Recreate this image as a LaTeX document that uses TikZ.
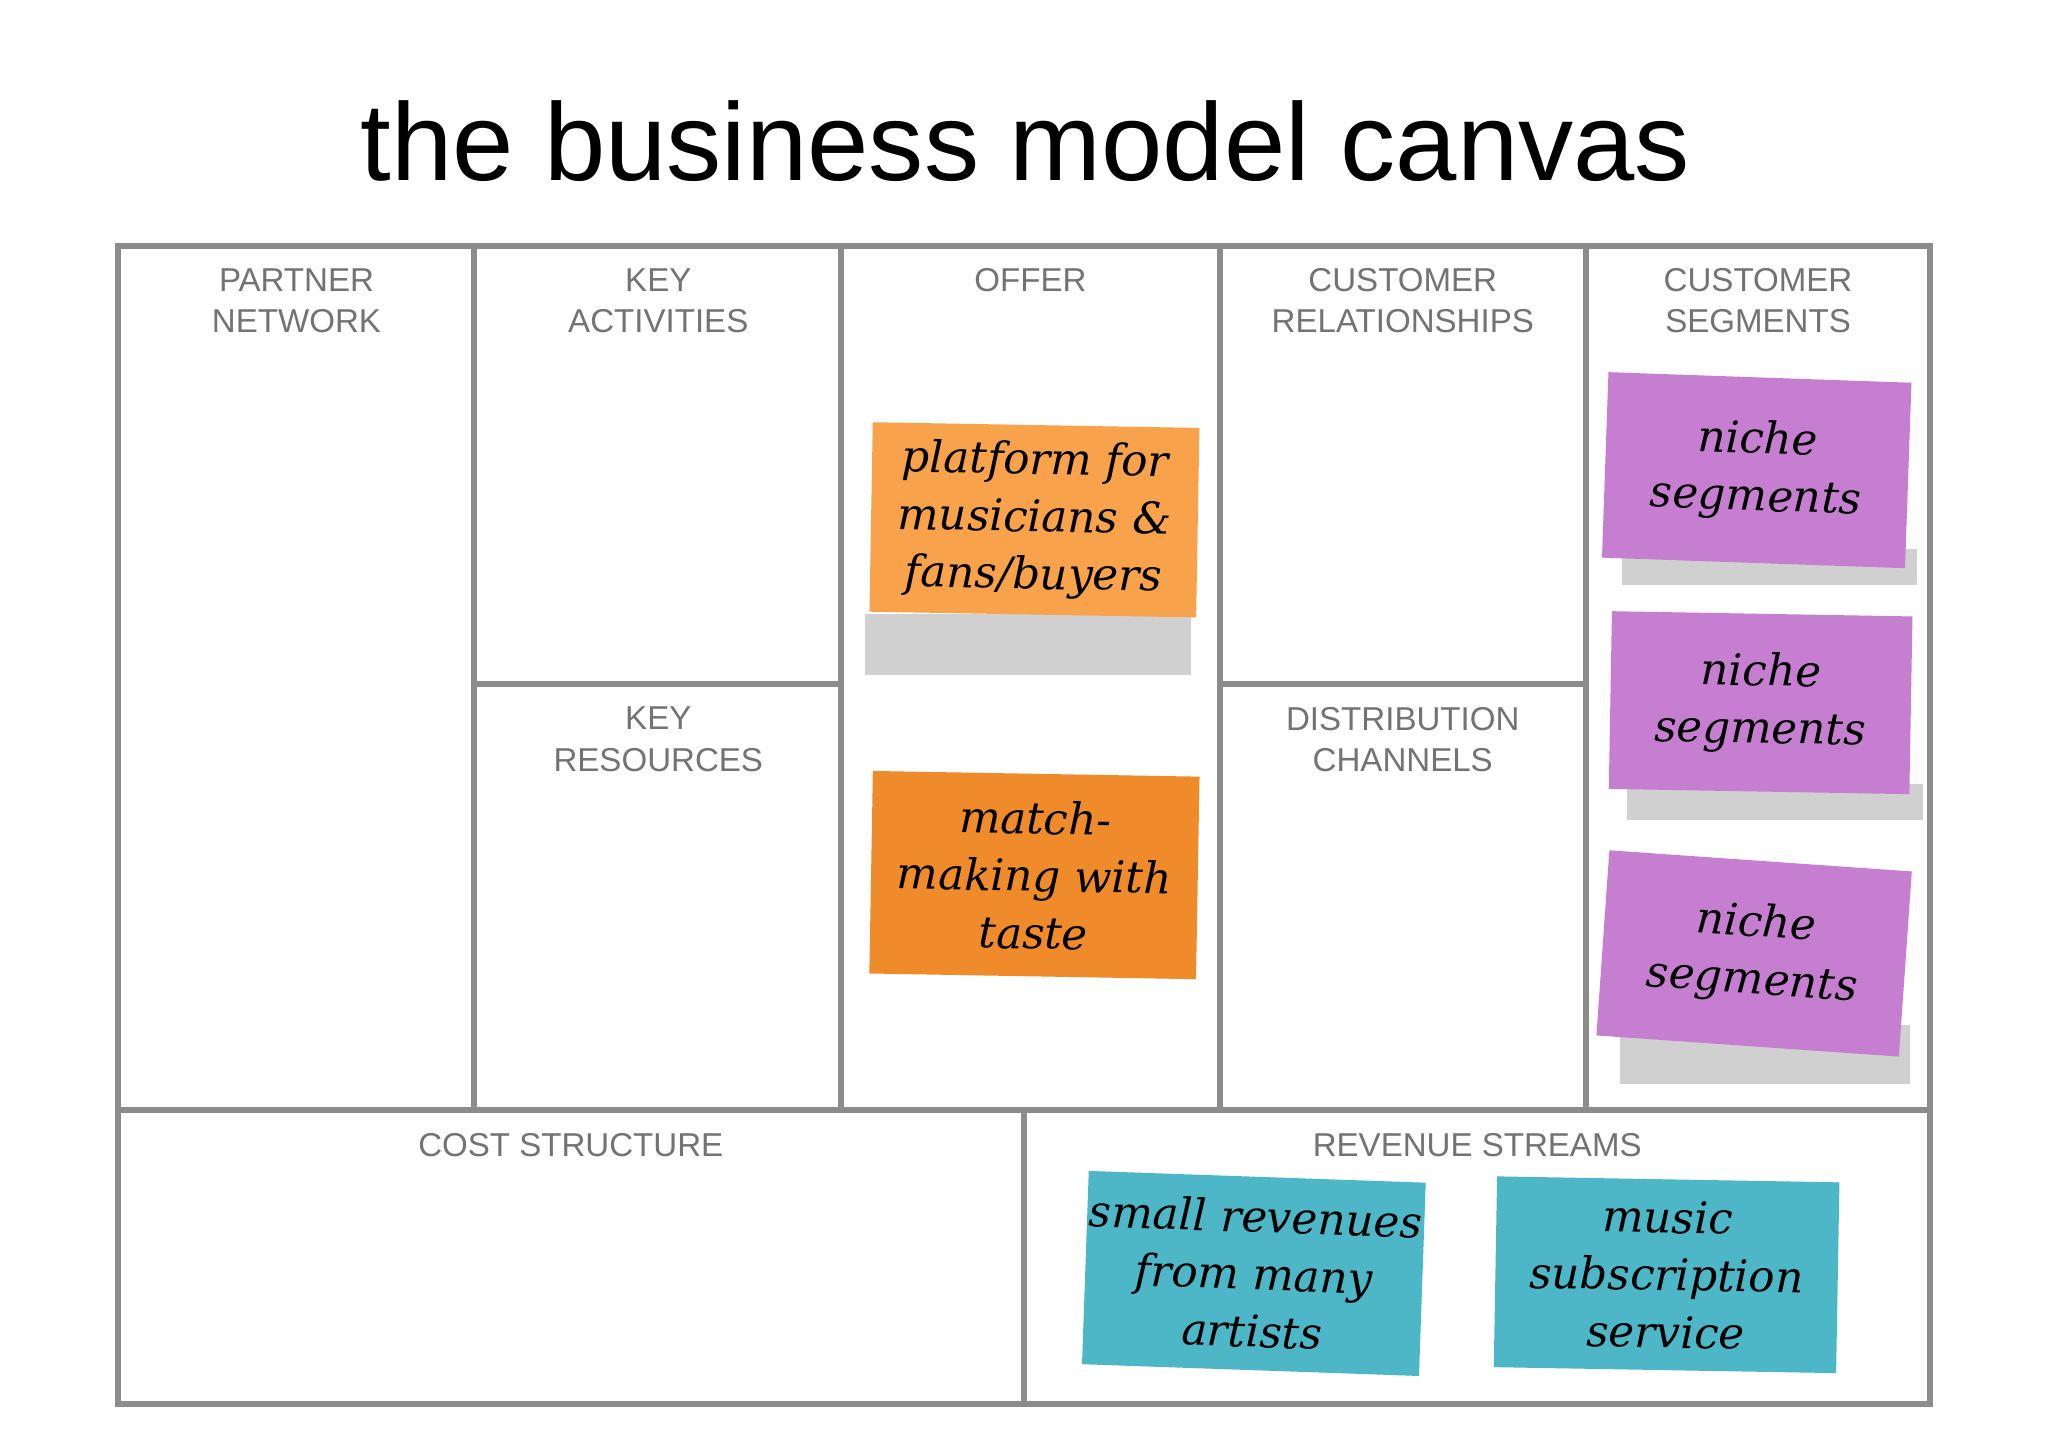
\documentclass[tikz,border=0pt]{standalone}
\usepackage{fontspec}
\setmainfont{Liberation Sans}
\newfontfamily\handfont{DejaVu Serif}
\begin{document}
\begin{tikzpicture}[x=0.01cm,y=-0.01cm,
  grid/.style={draw=black!45,line width=1.3pt},
  lbl/.style={text=black!55,align=center,font=\fontsize{7.2}{9}\selectfont,anchor=north},
  note/.style={minimum width=#1,inner sep=0pt,align=center,font=\handfont\itshape\fontsize{9.5}{12.5}\selectfont},
  shadow/.style={fill=black!30,opacity=0.6}]
\definecolor{orA}{HTML}{F8A24C}
\definecolor{orB}{HTML}{EF8B2A}
\definecolor{pur}{HTML}{C67FD0}
\definecolor{blu}{HTML}{4DB6C7}
\useasboundingbox (0,0) rectangle (1568,1107);
\fill[white] (0,0) rectangle (1568,1107);
\node (title) at (785,108) {\fontsize{24}{28}\selectfont the business model canvas};
% grid
\draw[grid] (90,188) rectangle (1478,1075);
\draw[grid] (90,850) -- (1478,850);
\draw[grid] (363,188) -- (363,850);
\draw[grid] (644,188) -- (644,850);
\draw[grid] (934,188) -- (934,850);
\draw[grid] (1214,188) -- (1214,850);
\draw[grid] (363,524) -- (644,524);
\draw[grid] (934,524) -- (1214,524);
\draw[grid] (784,850) -- (784,1075);
% labels
\node[lbl] (pn) at (227,193) {PARTNER\\NETWORK};
\node[lbl] (ka) at (504,193) {KEY\\ACTIVITIES};
\node[lbl] (of) at (789,193) {OFFER};
\node[lbl] (cr) at (1074,193) {CUSTOMER\\RELATIONSHIPS};
\node[lbl] (cs) at (1346,193) {CUSTOMER\\SEGMENTS};
\node[lbl] (kr) at (504,529) {KEY\\RESOURCES};
\node[lbl] (dc) at (1074,529) {DISTRIBUTION\\CHANNELS};
\node[lbl] (cost) at (437,855) {COST STRUCTURE};
\node[lbl] (rev) at (1131,855) {REVENUE STREAMS};
% shadows
\fill[shadow] (662,470) rectangle (912,517);
\fill[shadow] (1242,420) rectangle (1468,448);
\fill[shadow] (1246,600) rectangle (1472,628);
\fill[shadow] (1240,785) rectangle (1462,830);
% sticky notes
\node[note=2.5cm,fill=orA,minimum height=1.45cm,rotate=-1] (o1) at (792,398) {platform for\\musicians \&\\fans/buyers};
\node[note=2.5cm,fill=orB,minimum height=1.55cm,rotate=-1] (o2) at (792,670) {match-\\making with\\taste};
\node[note=2.32cm,fill=pur,minimum height=1.42cm,rotate=-2] (p1) at (1345,360) {niche\\segments};
\node[note=2.3cm,fill=pur,minimum height=1.36cm,rotate=-1] (p2) at (1348,538) {niche\\segments};
\node[note=2.32cm,fill=pur,minimum height=1.42cm,rotate=-4] (p3) at (1343,730) {niche\\segments};
\node[note=2.58cm,fill=blu,minimum height=1.48cm,rotate=-2] (b1) at (960,975) {small revenues\\from many\\artists};
\node[note=2.62cm,fill=blu,minimum height=1.46cm,rotate=-1] (b2) at (1276,976) {music\\subscription\\service};
\end{tikzpicture}
\end{document}
